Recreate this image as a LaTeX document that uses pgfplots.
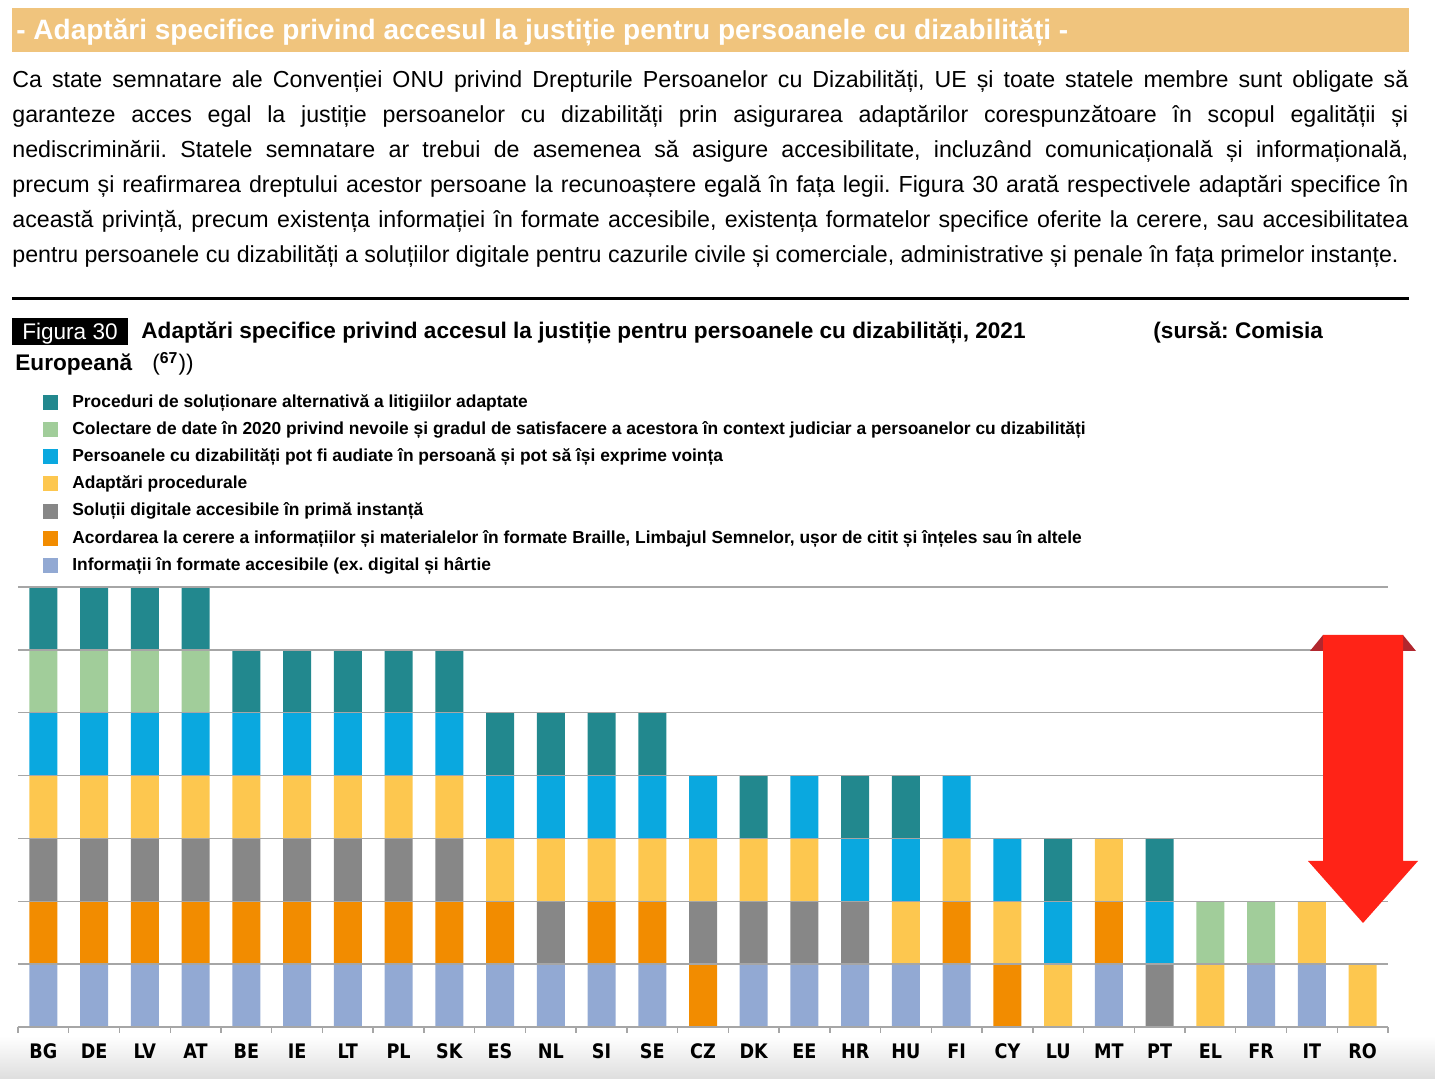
\documentclass[border=0pt]{standalone}
\usepackage{pgfplots}
\pgfplotsset{compat=1.18}
\usepackage{pgfplotstable}
\usepackage{fontspec}
\setmainfont{Liberation Sans}
\newfontfamily\tickfont[FakeStretch=0.88]{DejaVu Sans}
\frenchspacing

\definecolor{tealc}{HTML}{22888E}
\definecolor{greenc}{HTML}{A1CD9A}
\definecolor{cyanc}{HTML}{0AA8DF}
\definecolor{yellowc}{HTML}{FDC74F}
\definecolor{grayc}{HTML}{878787}
\definecolor{orangec}{HTML}{F28C00}
\definecolor{infoc}{HTML}{92A9D3}
\definecolor{bannerc}{HTML}{F0C47D}
\definecolor{gridc}{HTML}{A6A6A6}
\definecolor{arrowred}{HTML}{FF2317}
\definecolor{arrowdark}{HTML}{B1272E}

% 1 = the country has the adaptation, 0 = it has not
\pgfplotstableread{
idx info acord digit proc pers colect alt
0  1 1 1 1 1 1 1
1  1 1 1 1 1 1 1
2  1 1 1 1 1 1 1
3  1 1 1 1 1 1 1
4  1 1 1 1 1 0 1
5  1 1 1 1 1 0 1
6  1 1 1 1 1 0 1
7  1 1 1 1 1 0 1
8  1 1 1 1 1 0 1
9  1 1 0 1 1 0 1
10 1 0 1 1 1 0 1
11 1 1 0 1 1 0 1
12 1 1 0 1 1 0 1
13 0 1 1 1 1 0 0
14 1 0 1 1 0 0 1
15 1 0 1 1 1 0 0
16 1 0 1 0 1 0 1
17 1 0 0 1 1 0 1
18 1 1 0 1 1 0 0
19 0 1 0 1 1 0 0
20 0 0 0 1 1 0 1
21 1 1 0 1 0 0 0
22 0 0 1 0 1 0 1
23 0 0 0 1 0 1 0
24 1 0 0 0 0 1 0
25 1 0 0 1 0 0 0
26 0 0 0 1 0 0 0
}\data

\begin{document}
\begin{tikzpicture}
\useasboundingbox (0,0) rectangle (717.5pt,539.5pt);

% pixel grid of the reference, y down
\begin{scope}[x=0.5pt,y=-0.5pt,yshift=539.5pt]
  \shade[top color=white, bottom color=black!13] (0,1036) rectangle (1435,1079);
  \fill[bannerc] (12,8) rectangle (1409,52);
  \node[anchor=base west, inner sep=0pt, text=white, font=\bfseries\fontsize{14}{16}\selectfont]
    at (16,40) {- Adaptări specifice privind accesul la justiție pentru persoanele cu dizabilități -};

  \begin{scope}[every node/.style={anchor=base west, inner sep=0pt, font=\fontsize{11.6}{17.5}\selectfont}]
    \node at (12,88) {\makebox[698pt][s]{Ca state semnatare ale Convenției ONU privind Drepturile Persoanelor cu Dizabilități, UE și toate statele membre sunt obligate să}};
    \node at (12,123) {\makebox[698pt][s]{garanteze acces egal la justiție persoanelor cu dizabilități prin asigurarea adaptărilor corespunzătoare în scopul egalității și}};
    \node at (12,158) {\makebox[698pt][s]{nediscriminării. Statele semnatare ar trebui de asemenea să asigure accesibilitate, incluzând comunicațională și informațională,}};
    \node at (12,193) {\makebox[698pt][s]{precum și reafirmarea dreptului acestor persoane la recunoaștere egală în fața legii. Figura 30 arată respectivele adaptări specifice în}};
    \node at (12,228) {\makebox[698pt][s]{această privință, precum existența informației în formate accesibile, existența formatelor specifice oferite la cerere, sau accesibilitatea}};
    \node at (12,263) {pentru persoanele cu dizabilități a soluțiilor digitale pentru cazurile civile și comerciale, administrative și penale în fața primelor instanțe.};
  \end{scope}

  \fill[black] (12,297) rectangle (1409,300);

  \fill[black] (12,318) rectangle (128,345);
  \begin{scope}[every node/.style={inner sep=0pt, font=\fontsize{11.3}{13}\selectfont}]
    \node[anchor=base, text=white] at (70,340) {Figura 30};
    \node[anchor=base west, font=\bfseries\fontsize{11.3}{13}\selectfont] at (141,339)
      {Adaptări specifice privind accesul la justiție pentru persoanele cu dizabilități, 2021};
    \node[anchor=base west, font=\bfseries\fontsize{11.3}{13}\selectfont] at (1153,339) {(sursă: Comisia};
    \node[anchor=base west, font=\bfseries\fontsize{11.3}{13}\selectfont] at (15,371) {Europeană};
    \node[anchor=base west] at (152,371) {(\textsuperscript{\bfseries 67}))};
  \end{scope}
\end{scope}

\begin{axis}[
  at={(9pt,26pt)}, anchor=south west,
  scale only axis, width=685pt, height=220pt,
  ybar stacked, bar width=14pt,
  xmin=-0.5, xmax=26.5, ymin=0, ymax=7,
  axis x line*=bottom, axis y line*=left,
  y axis line style={draw=none},
  x axis line style={draw=gridc, line width=0.7pt, -},
  tick align=outside,
  major tick length=0pt, minor tick length=3pt,
  xtick={0,...,26},
  xticklabels={BG,DE,LV,AT,BE,IE,LT,PL,SK,ES,NL,SI,SE,CZ,DK,EE,HR,HU,FI,CY,LU,MT,PT,EL,FR,IT,RO},
  minor xtick={-0.5,0.5,...,26.5},
  minor tick style={draw=gridc, line width=0.7pt},
  ytick={0,...,7}, yticklabels={},
  ymajorgrids, major grid style={draw=gridc, line width=0.7pt},
  axis on top,
  xticklabel style={font=\tickfont\bfseries\fontsize{10}{11}\selectfont, inner sep=0pt, anchor=north, yshift=-8.3pt},
  reverse legend, legend cell align=left,
  legend image code/.code={\fill[#1] (0pt,-3.4pt) rectangle (7.5pt,4.1pt);},
  legend style={at={(0.0182,1.4395)}, anchor=north west, draw=none, fill=none, inner sep=0pt,
    font=\bfseries\fontsize{8.7}{10}\selectfont, row sep=4.6pt,
    nodes={inner sep=0pt, text height=6.5pt, text depth=2.5pt},
    /tikz/every odd column/.append style={column sep=7pt}},
]
\addplot[fill=infoc, draw=none] table[x=idx, y=info] {\data};
\addlegendentry{Informații în formate accesibile (ex. digital și hârtie}
\addplot[fill=orangec, draw=none] table[x=idx, y=acord] {\data};
\addlegendentry{Acordarea la cerere a informațiilor și materialelor în formate Braille, Limbajul Semnelor, ușor de citit și înțeles sau în altele}
\addplot[fill=grayc, draw=none] table[x=idx, y=digit] {\data};
\addlegendentry{Soluții digitale accesibile în primă instanță}
\addplot[fill=yellowc, draw=none] table[x=idx, y=proc] {\data};
\addlegendentry{Adaptări procedurale}
\addplot[fill=cyanc, draw=none] table[x=idx, y=pers] {\data};
\addlegendentry{Persoanele cu dizabilități pot fi audiate în persoană și pot să își exprime voința}
\addplot[fill=greenc, draw=none] table[x=idx, y=colect] {\data};
\addlegendentry{Colectare de date în 2020 privind nevoile și gradul de satisfacere a acestora în context judiciar a persoanelor cu dizabilități}
\addplot[fill=tealc, draw=none] table[x=idx, y=alt] {\data};
\addlegendentry{Proceduri de soluționare alternativă a litigiilor adaptate}
\end{axis}

\begin{scope}[x=0.5pt,y=-0.5pt,yshift=539.5pt]
  \fill[arrowdark] (1310,651) -- (1323,635) -- (1323,651) -- cycle;
  \fill[arrowdark] (1403,635) -- (1416,651) -- (1403,651) -- cycle;
  \fill[arrowred] (1323,635) -- (1403,635) -- (1403,861) -- (1418,861) -- (1363,923)
    -- (1308,861) -- (1323,861) -- cycle;
\end{scope}
\end{tikzpicture}
\end{document}
